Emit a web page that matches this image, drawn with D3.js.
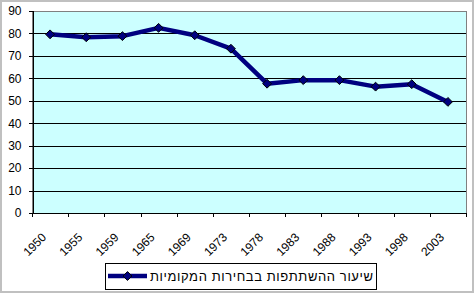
<!DOCTYPE html>
<html>
<head>
<meta charset="utf-8">
<script src="https://cdn.jsdelivr.net/npm/d3@7"></script>
<style>
  html, body { margin: 0; padding: 0; background: #fff; overflow: hidden; }
  svg { display: block; }
  text { font-family: Arial, "Liberation Sans", sans-serif; }
</style>
</head>
<body>
<svg id="chart" width="475" height="294"></svg>
<script>
// turnout in local elections, by year
const years = ['1950', '1955', '1959', '1965', '1969', '1973', '1978', '1983', '1988', '1993', '1998', '2003']
const turnout = [79.6, 78.3, 78.8, 82.5, 79.2, 73.2, 57.6, 59.2, 59.2, 56.3, 57.4, 49.5]
const yTicks = [0, 10, 20, 30, 40, 50, 60, 70, 80, 90]
const seriesName = 'שיעור ההשתתפות בבחירות המקומיות'

const svg = d3.select('#chart')

const margin = { left: 32, top: 11, right: 466, bottom: 213 }

let x = d3.scaleBand().domain(years).range([margin.left, margin.right])
let y = d3.scaleLinear().domain([0, 90]).range([margin.bottom, margin.top])

// outer frame
svg.append('rect')
    .attr('x', 1).attr('y', 1)
    .attr('width', 472).attr('height', 291)
    .attr('fill', '#fff')
    .attr('stroke', '#c0c0c0')
    .attr('stroke-width', 2)

// plot area
svg.append('rect')
    .attr('x', margin.left + 0.5).attr('y', margin.top + 0.5)
    .attr('width', margin.right - margin.left)
    .attr('height', margin.bottom - margin.top)
    .attr('fill', '#ccffff')
    .attr('stroke', '#808080')
    .attr('stroke-width', 1)
    .attr('shape-rendering', 'crispEdges')

// gridlines
svg.append('g')
    .selectAll('line')
    .data(yTicks.filter(d => d > 0 && d < 90))
    .enter().append('line')
    .attr('x1', margin.left).attr('x2', margin.right)
    .attr('y1', d => Math.round(y(d)) + 0.5)
    .attr('y2', d => Math.round(y(d)) + 0.5)
    .attr('stroke', '#000')
    .attr('shape-rendering', 'crispEdges')

// y axis
let yAxis = d3.axisLeft(y).tickValues(yTicks).tickSize(4).tickPadding(7)
let gy = svg.append('g')
    .attr('transform', 'translate(' + (margin.left + 0.5) + ',0)')
    .call(yAxis)
gy.select('.domain').attr('stroke', '#000').attr('shape-rendering', 'crispEdges')
gy.selectAll('.tick line').attr('shape-rendering', 'crispEdges')
gy.selectAll('.tick text')
    .attr('font-size', 12)
    .attr('font-family', 'Arial, "Liberation Sans", sans-serif')
    .attr('fill', '#000')

// x axis line and ticks at band boundaries
svg.append('line')
    .attr('x1', margin.left).attr('x2', margin.right)
    .attr('y1', margin.bottom + 0.5).attr('y2', margin.bottom + 0.5)
    .attr('stroke', '#000')
    .attr('shape-rendering', 'crispEdges')
let bounds = years.map(d => x(d)).concat([x.range()[1]])
svg.append('g')
    .selectAll('line')
    .data(bounds)
    .enter().append('line')
    .attr('x1', d => Math.round(d) + 0.5).attr('x2', d => Math.round(d) + 0.5)
    .attr('y1', margin.bottom).attr('y2', margin.bottom + 4)
    .attr('stroke', '#000')
    .attr('shape-rendering', 'crispEdges')

// rotated year labels
svg.append('g')
    .selectAll('text')
    .data(years)
    .enter().append('text')
    .attr('transform', d => 'translate(' + (x(d) + x.bandwidth() / 2 - 6) + ',' + (margin.bottom + 22) + ') rotate(-45)')
    .attr('text-anchor', 'end')
    .attr('dy', '0.35em')
    .attr('font-size', 12)
    .text(d => d)

// the series
let line = d3.line()
    .x((d, i) => x(years[i]) + x.bandwidth() / 2)
    .y(d => y(d))
svg.append('path')
    .datum(turnout)
    .attr('d', line)
    .attr('fill', 'none')
    .attr('stroke', '#000080')
    .attr('stroke-width', 4.5)
    .attr('stroke-linejoin', 'round')

let diamond = d3.symbol().type(d3.symbolDiamond2).size(50)
svg.append('g')
    .selectAll('path')
    .data(turnout)
    .enter().append('path')
    .attr('d', diamond)
    .attr('transform', (d, i) => 'translate(' + (x(years[i]) + x.bandwidth() / 2) + ',' + y(d) + ')')
    .attr('fill', '#000080')
    .attr('stroke', '#000')
    .attr('stroke-width', 1)

// legend
let lg = svg.append('g')
lg.append('rect')
    .attr('x', 105.5).attr('y', 263.5)
    .attr('width', 271).attr('height', 26)
    .attr('fill', '#fff')
    .attr('stroke', '#000')
    .attr('shape-rendering', 'crispEdges')
lg.append('line')
    .attr('x1', 108).attr('x2', 147)
    .attr('y1', 276).attr('y2', 276)
    .attr('stroke', '#000080')
    .attr('stroke-width', 4.5)
lg.append('path')
    .attr('d', diamond)
    .attr('transform', 'translate(127.5,276)')
    .attr('fill', '#000080')
    .attr('stroke', '#000')
lg.append('text')
    .attr('x', 373).attr('y', 281)
    .attr('text-anchor', 'end')
    .attr('font-size', 13)
    .attr('textLength', 223)
    .attr('lengthAdjust', 'spacing')
    .text(seriesName)
</script>
</body>
</html>
